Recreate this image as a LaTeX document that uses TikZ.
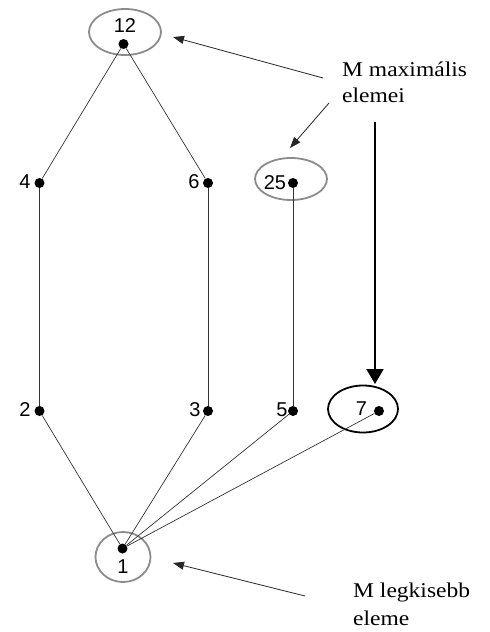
\documentclass[tikz,border=0pt]{standalone}
\usepackage{fontspec}
\setmainfont{Liberation Sans}
\newfontfamily\serifont{Liberation Serif}
\usetikzlibrary{arrows.meta,shapes.geometric}
\newcommand{\wtext}[1]{\scalebox{1.12}[1]{#1}}
\begin{document}
\begin{tikzpicture}[x=1pt,y=-1pt,
  dot/.style={circle,fill=black,inner sep=0pt,minimum size=10pt},
  lbl/.style={inner sep=0pt,font=\fontsize{20}{22}\selectfont},
  edge/.style={draw=black!80,line width=0.7pt},
  ring/.style={draw=black!45,line width=1.8pt,ellipse,inner sep=0pt},
  note/.style={inner sep=0pt,anchor=base west,font=\serifont\fontsize{21}{24}\selectfont},
  thin arrow/.style={draw=black!85,line width=0.8pt,-{Triangle[length=11pt,width=8pt]}}
]
\useasboundingbox (0,0) rectangle (490,632);
% dots
\node[dot] (n12) at (123.5,44) {};
\node[dot] (n4) at (39.5,183) {};
\node[dot] (n6) at (208,183) {};
\node[dot] (n25) at (293,183) {};
\node[dot] (n2) at (39.5,411) {};
\node[dot] (n3) at (208,411) {};
\node[dot] (n5) at (293,411) {};
\node[dot] (n7) at (379,411) {};
\node[dot] (n1) at (122.5,548.5) {};
% labels
\node[lbl] (l12) at (125,26) {12};
\node[lbl] (l4) at (25,182) {4};
\node[lbl] (l6) at (194,182) {6};
\node[lbl] (l25) at (275,183) {25};
\node[lbl] (l2) at (25,410) {2};
\node[lbl] (l3) at (195,410) {3};
\node[lbl] (l5) at (282,410) {5};
\node[lbl] (l7) at (361.5,409) {7};
\node[lbl] (l1) at (123,567) {1};
% rings
\node[ring,minimum width=72pt,minimum height=46pt] (e12) at (125,32) {};
\node[ring,minimum width=72pt,minimum height=42pt] (e25) at (291,179) {};
\node[ring,draw=black,minimum width=70pt,minimum height=47pt] (e7) at (363,409) {};
\node[ring,minimum width=55pt,minimum height=50pt] (e1) at (123,557) {};
% edges
\draw[edge] (n12) -- (n4);
\draw[edge] (n12) -- (n6);
\draw[edge] (n4) -- (n2);
\draw[edge] (n6) -- (n3);
\draw[edge] (n25) -- (n5);
\draw[edge] (n2) -- (n1);
\draw[edge] (n3) -- (n1);
\draw[edge] (n5) -- (n1);
\draw[edge] (n7) -- (n1);
% notes
\node[note] (t1) at (342,76) {\wtext{M maximális}};
\node[note] (t2) at (342,102) {\wtext{elemei}};
\node[note] (t3) at (353,597) {\wtext{M legkisebb}};
\node[note] (t4) at (353,625) {\wtext{eleme}};
\coordinate (a1s) at (323,78);
\coordinate (a1e) at (173,37);
\coordinate (a2s) at (329,103);
\coordinate (a2e) at (290,148);
\coordinate (a3s) at (375,122);
\coordinate (a3e) at (375,384);
\coordinate (a4s) at (305,596);
\coordinate (a4e) at (173,563);
\draw[thin arrow] (a1s) -- (a1e);
\draw[thin arrow] (a2s) -- (a2e);
\draw[thin arrow] (a4s) -- (a4e);
\draw[line width=2pt,-{Triangle[length=15pt,width=17pt]}] (a3s) -- (a3e);
\end{tikzpicture}
\end{document}
